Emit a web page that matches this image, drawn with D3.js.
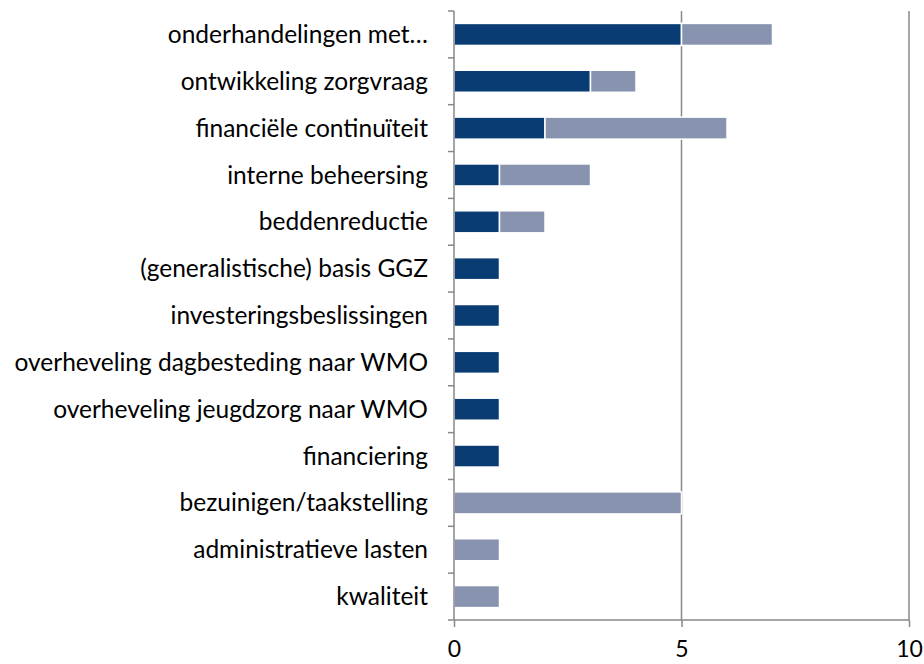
<!DOCTYPE html>
<html>
<head>
<meta charset="utf-8">
<script src="https://cdn.jsdelivr.net/npm/d3@7"></script>
<style>
  body { margin: 0; background: #fff; }
  text { font-family: Lato, "Open Sans", sans-serif; fill: #000; }
</style>
</head>
<body>
<svg id="chart"></svg>
<script>
// categories, top to bottom
const categories = [
  "onderhandelingen met\u2026",
  "ontwikkeling zorgvraag",
  "financiële continuïteit",
  "interne beheersing",
  "beddenreductie",
  "(generalistische) basis GGZ",
  "investeringsbeslissingen",
  "overheveling dagbesteding naar WMO",
  "overheveling jeugdzorg naar WMO",
  "financiering",
  "bezuinigen/taakstelling",
  "administratieve lasten",
  "kwaliteit"
];
const seriesDark = [5, 3, 2, 1, 1, 1, 1, 1, 1, 1, 0, 0, 0];
const seriesLight = [2, 1, 4, 2, 1, 0, 0, 0, 0, 0, 5, 1, 1];
const xTicks = [0, 5, 10];

const width = 924, height = 664;
const margin = { top: 11, right: 15, bottom: 44, left: 454 };

const svg = d3.select("#chart").attr("width", width).attr("height", height);

const x = d3.scaleLinear().domain([0, 10]).range([margin.left, 909]);
const y = d3.scaleBand().domain(categories).range([margin.top, height - margin.bottom]).paddingInner(0.53).paddingOuter(0.265);

// vertical gridlines
svg.selectAll(".grid")
  .data(xTicks.slice(1))
  .enter()
  .append("line")
  .attr("x1", (d) => x(d))
  .attr("x2", (d) => x(d))
  .attr("y1", margin.top)
  .attr("y2", height - margin.bottom)
  .attr("stroke", "#888")
  .attr("stroke-width", 1.5);

// stacked bars
const rows = categories.map((c, i) => ({ cat: c, dark: seriesDark[i], light: seriesLight[i] }));

svg.selectAll(".bar-dark")
  .data(rows.filter((d) => d.dark > 0))
  .enter()
  .append("rect")
  .attr("x", x(0))
  .attr("y", (d) => y(d.cat))
  .attr("width", (d) => x(d.dark) - x(0))
  .attr("height", y.bandwidth())
  .attr("fill", "#0a3c74")
  .attr("stroke", "#fff")
  .attr("stroke-width", 1.5);

svg.selectAll(".bar-light")
  .data(rows.filter((d) => d.light > 0))
  .enter()
  .append("rect")
  .attr("x", (d) => x(d.dark))
  .attr("y", (d) => y(d.cat))
  .attr("width", (d) => x(d.dark + d.light) - x(d.dark))
  .attr("height", y.bandwidth())
  .attr("fill", "#8893b0")
  .attr("stroke", "#fff")
  .attr("stroke-width", 1.5);

// y axis line with ticks at band boundaries
const yAxisG = svg.append("g");
yAxisG.append("line")
  .attr("x1", x(0)).attr("x2", x(0))
  .attr("y1", margin.top).attr("y2", height - margin.bottom)
  .attr("stroke", "#888").attr("stroke-width", 1.5);

const step = y.step();
const boundaries = d3.range(categories.length + 1).map((i) => margin.top + i * step);
yAxisG.selectAll(".ytick")
  .data(boundaries)
  .enter()
  .append("line")
  .attr("x1", x(0) - 6).attr("x2", x(0))
  .attr("y1", (d) => d).attr("y2", (d) => d)
  .attr("stroke", "#888").attr("stroke-width", 1.5);

yAxisG.selectAll(".ylabel")
  .data(categories)
  .enter()
  .append("text")
  .attr("x", x(0) - 26)
  .attr("y", (d) => y(d) + y.bandwidth() / 2)
  .attr("dy", "0.35em")
  .attr("text-anchor", "end")
  .attr("font-size", 24.5)
  .text((d) => d);

// x axis
const xAxis = d3.axisBottom(x).tickValues(xTicks).tickSize(7).tickPadding(14).tickFormat(d3.format("d"));
const xAxisG = svg.append("g")
  .attr("transform", `translate(0,${height - margin.bottom})`)
  .call(xAxis);
xAxisG.select(".domain").attr("stroke", "#888").attr("stroke-width", 1.5).attr("d", `M${x(0)},0H${x(10)}`);
xAxisG.selectAll(".tick line").attr("stroke", "#888").attr("stroke-width", 1.5);
xAxisG.selectAll(".tick text").attr("font-size", 23).attr("font-family", "Lato, 'Open Sans', sans-serif").attr("fill", "#000");
</script>
</body>
</html>
